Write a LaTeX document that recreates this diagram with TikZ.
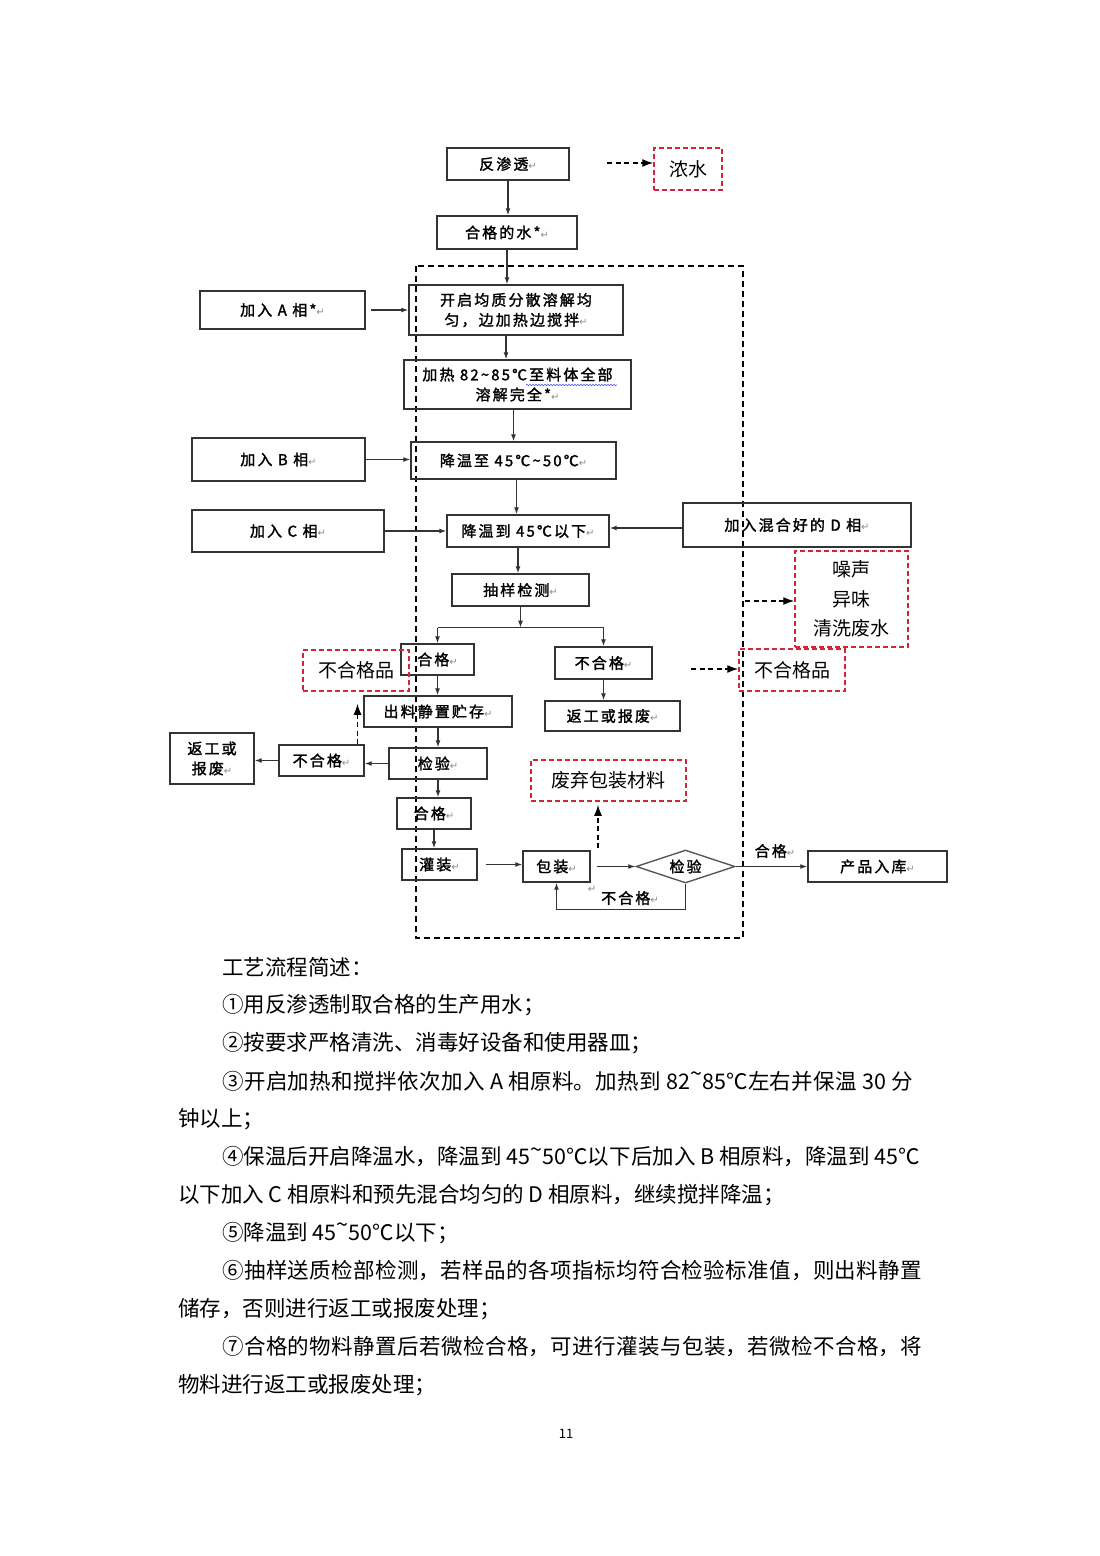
\documentclass[tikz,border=0pt]{standalone}
\usepackage{fontspec}
\setmainfont{Noto Sans CJK SC}
\newfontfamily\bxf[LetterSpace=14,FakeBold=1.6]{Noto Sans CJK SC}
\newfontfamily\dvs{DejaVu Sans}
\usetikzlibrary{arrows.meta,shapes.geometric,calc,decorations.pathmorphing}
\XeTeXlinebreaklocale "zh"
\XeTeXlinebreakskip=0pt plus 2pt minus 0.5pt
\definecolor{rd}{RGB}{215,35,55}
\newcommand\rt{{\dvs\fontsize{10}{10}\selectfont\color{black!45}↵}}
\newcommand\rtil{\raisebox{.35em}{\textasciitilde}}
\begin{document}
\begin{tikzpicture}[x=1pt,y=-1pt,
  box/.style={draw=black!80, line width=1.4pt, inner sep=1pt, font=\bxf\fontsize{15}{20}\selectfont, align=center},
  rbox/.style={draw=rd, dash pattern=on 5pt off 3pt, line width=1.5pt, inner sep=1pt, font=\fontsize{19}{30}\selectfont, align=center},
  arr/.style={-{Latex[length=7pt,width=5pt]}, line width=1.3pt, draw=black!80},
  darr/.style={dash pattern=on 5pt off 3.5pt, line width=1.4pt, -{Latex[length=11pt,width=8pt]}},
  bigdash/.style={dash pattern=on 6pt off 4pt, line width=1.4pt},
  lbl/.style={inner sep=0pt, font=\bxf\fontsize{15}{20}\selectfont},
  body/.style={anchor=west, inner sep=0pt, font=\fontsize{21.5}{26}\selectfont}]
\useasboundingbox[fill=white] (0,0) rectangle (1100,1556);

% --- top ---
\node[box,minimum width=122pt,minimum height=32pt] (fs) at (508,164) {反渗透\rt};
\node[rbox,minimum width=68pt,minimum height=42pt] (ns) at (688,169) {浓水};
\node[box,minimum width=140pt,minimum height=33pt] (hgs) at (507,232.5) {合格的水*\rt};
\draw[bigdash] (416,266) rectangle (743,938);

\node[box,minimum width=214pt,minimum height=50pt] (kq) at (516,310) {开启均质分散溶解均\\匀，边加热边搅拌\rt};
\node[box,minimum width=165pt,minimum height=38pt] (aA) at (282.5,310) {加入 A 相*\rt};
\node[box,minimum width=227pt,minimum height=49pt] (jr) at (517.5,384.5) {加热 82\textasciitilde85℃至料体全部\\溶解完全*\rt};
\node[box,minimum width=205pt,minimum height=37pt] (jw1) at (513.5,460.5) {降温至 45℃\textasciitilde50℃\rt};
\node[box,minimum width=173pt,minimum height=43pt] (aB) at (278.5,459.5) {加入 B 相\rt};
\node[box,minimum width=162pt,minimum height=32pt] (jw2) at (528,531) {降温到 45℃以下\rt};
\node[box,minimum width=192pt,minimum height=42pt] (aC) at (288,531) {加入 C 相\rt};
\node[box,minimum width=228pt,minimum height=44pt] (aD) at (797,525) {加入混合好的 D 相\rt};
\node[box,minimum width=137pt,minimum height=32pt] (cy) at (520.5,590) {抽样检测\rt};
\node[rbox,minimum width=113pt,minimum height=96pt,font=\fontsize{19}{29.5}\selectfont] (zs) at (851.5,599) {噪声\\异味\\清洗废水};

% --- branch ---
\node[box,minimum width=73pt,minimum height=31pt] (hg1) at (437.5,659.5) {合格\rt};
\node[rbox,minimum width=106pt,minimum height=41pt] (bp1) at (356,670.5) {不合格品};
\node[box,minimum width=97pt,minimum height=32pt] (bhg1) at (603.5,663) {不合格\rt};
\node[rbox,minimum width=106pt,minimum height=42pt] (bp2) at (792,670) {不合格品};
\node[box,minimum width=135pt,minimum height=30pt] (fg1) at (612.5,716) {返工或报废\rt};
\node[box,minimum width=148pt,minimum height=31pt] (cl) at (438,711.5) {出料静置贮存\rt};
\node[box,minimum width=98pt,minimum height=31pt] (jy1) at (438,763.5) {检验\rt};
\node[box,minimum width=85pt,minimum height=31pt] (bhg2) at (321.5,760.5) {不合格\rt};
\node[box,minimum width=84pt,minimum height=51pt] (fg2) at (212,758.5) {返工或\\报废\rt};
\node[box,minimum width=74pt,minimum height=31pt] (hg2) at (434,813.5) {合格\rt};
\node[box,minimum width=75pt,minimum height=31pt] (gz) at (439.5,864.5) {灌装\rt};
\node[box,minimum width=67pt,minimum height=31pt] (bz) at (556.5,866.5) {包装\rt};
\node[box,draw=black!65,diamond,aspect=3,minimum width=99pt,minimum height=33pt,inner sep=0pt] (jy2) at (685.5,866.5) {检验};
\node[rbox,minimum width=155pt,minimum height=41pt] (fq) at (608.5,780.5) {废弃包装材料};
\node[box,minimum width=139pt,minimum height=31pt] (cp) at (877.5,866.5) {产品入库\rt};

% spell-check squiggle
\draw[blue!70, line width=0.6pt, decorate, decoration={snake, amplitude=0.7pt, segment length=3pt}] (526,385) -- (617,385);

% --- connectors ---
\draw[arr] (fs.south) -- (fs.south |- hgs.north);
\coordinate (nsIn) at (607,163);
\draw[darr] (nsIn) -- (nsIn -| ns.west);
\draw[arr] (hgs.south) -- (hgs.south |- kq.north);
\draw[arr,shorten <=5pt] (aA.east) -- (kq.west);
\coordinate (k1) at ($(kq.south)+(-10,0)$);
\draw[arr] (k1) -- (k1 |- jr.north);
\coordinate (j1) at ($(jr.south)+(-4,0)$);
\draw[arr] (j1) -- (j1 |- jw1.north);
\draw[arr] (aB.east) -- (aB.east -| jw1.west);
\coordinate (j2) at ($(jw1.south)+(3,0)$);
\draw[arr] (j2) -- (j2 |- jw2.north);
\draw[arr] (aC.east) -- (aC.east -| jw2.west);
\coordinate (d1) at ($(aD.west)+(0,3)$);
\draw[arr] (d1) -- (d1 -| jw2.east);
\coordinate (c1) at ($(jw2.south)+(-10,0)$);
\draw[arr] (c1) -- (c1 |- cy.north);
\coordinate (br) at ($(cy.south)+(0,21)$);
\draw[arr] (cy.south) -- (br);
\draw[line width=1.3pt, draw=black!80] (br -| hg1.north) -- (br -| bhg1.north);
\draw[arr] (br -| hg1.north) -- (hg1.north);
\draw[arr] (br -| bhg1.north) -- (bhg1.north);
\draw[arr] (bhg1.south) -- (bhg1.south |- fg1.north);
\coordinate (b2in) at (691,669);
\draw[darr] (b2in) -- (b2in -| bp2.west);
\coordinate (zsin) at (745,601);
\draw[darr] (zsin) -- (zsin -| zs.west);
\draw[arr] (hg1.south) -- (hg1.south |- cl.north);
\draw[arr] (cl.south) -- (cl.south |- jy1.north);
\draw[arr] (jy1.west) -- (jy1.west -| bhg2.east);
\draw[arr] (bhg2.west) -- (bhg2.west -| fg2.east);
\coordinate (up1) at ($(bhg2.north)+(36,0)$);
\draw[darr,shorten >=12pt] (up1) -- (up1 |- bp1.south);
\draw[arr] (jy1.south) -- (jy1.south |- hg2.north);
\draw[arr] (hg2.south) -- (hg2.south |- gz.north);
\draw[arr,shorten <=8pt] (gz.east) -- (gz.east -| bz.west);
\draw[arr,shorten <=6pt] (bz.east) -- (jy2.west);
\coordinate (fqs) at (598,848);
\draw[darr,shorten >=3pt] (fqs) -- (fqs |- fq.south);
\draw[arr] (jy2.south) -- ++(0,26) -| (bz.south);
\draw[arr] (jy2.east) -- (cp.west);
\node[lbl] (lh) at (775,851) {合格\rt};
\node[lbl] (lb) at (630,898) {不合格\rt};
\node[inner sep=0pt] (rm) at (592,889) {\rt};

% --- body text ---
\node[body] (t1) at (222,967) {工艺流程简述：};
\node[body] (t2) at (222,1005) {①用反渗透制取合格的生产用水；};
\node[body] (t3) at (222,1043) {②按要求严格清洗、消毒好设备和使用器皿；};
\node[body] (t4) at (178,1081) {\parbox{735pt}{\parfillskip=0pt\hspace*{44pt}③开启加热和搅拌依次加入 A 相原料。加热到 82\rtil85℃左右并保温 30 分}};
\node[body] (t5) at (178,1119) {钟以上；};
\node[body] (t6) at (178,1157) {\parbox{742pt}{\parfillskip=0pt\hspace*{44pt}④保温后开启降温水，降温到 45\rtil50℃以下后加入 B 相原料，降温到 45℃}};
\node[body] (t7) at (178,1195) {以下加入 C 相原料和预先混合均匀的 D 相原料，继续搅拌降温；};
\node[body] (t8) at (222,1233) {⑤降温到 45\rtil50℃以下；};
\node[body] (t9) at (178,1271) {\parbox{744pt}{\parfillskip=0pt\hspace*{44pt}⑥抽样送质检部检测，若样品的各项指标均符合检验标准值，则出料静置}};
\node[body] (t10) at (178,1309) {储存，否则进行返工或报废处理；};
\node[body] (t11) at (178,1347) {\parbox{744pt}{\parfillskip=0pt\hspace*{44pt}⑦合格的物料静置后若微检合格，可进行灌装与包装，若微检不合格，将}};
\node[body] (t12) at (178,1385) {物料进行返工或报废处理；};
\node[inner sep=0pt, font=\fontsize{13}{15}\selectfont] (pg) at (566,1434) {11};
\end{tikzpicture}
\end{document}
